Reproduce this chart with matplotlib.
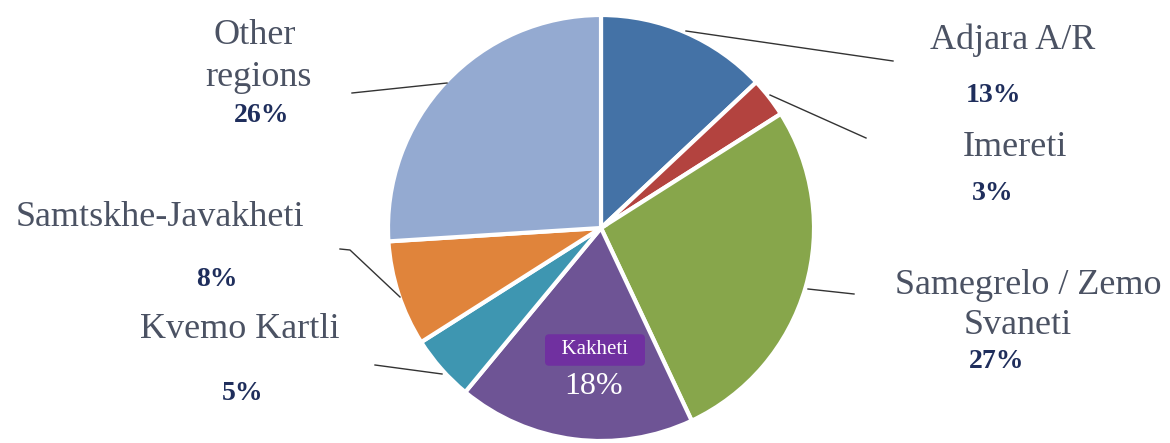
import matplotlib.pyplot as plt

# Slice data, clockwise from 12 o'clock
regions = ["Adjara A/R", "Imereti", "Samegrelo / Zemo\nSvaneti", "Kakheti",
           "Kvemo Kartli", "Samtskhe-Javakheti", "Other\nregions"]
shares = [13, 3, 27, 18, 5, 8, 26]
colors = ["#4472A6", "#B3433F", "#87A64B", "#6E5495", "#3E96B1", "#E0843B", "#94AAD1"]
explode = [0, 0, 0.02, 0.01, 0, 0, 0]

W, H = 1170, 443
NAME_COLOR = "#4B5263"
PCT_COLOR = "#1F2E5C"

plt.rcParams['font.family'] = ['Liberation Serif', 'DejaVu Serif']

fig = plt.figure(figsize=(W / 100, H / 100), dpi=100)
ax = fig.add_axes([0, 0, 1, 1])


def py(y):
    # convert pixel row (top origin) to data y
    return H - y


ax.pie(shares, colors=colors, explode=explode, startangle=90, counterclock=False,
       center=(601, py(228)), radius=213, frame=True,
       wedgeprops=dict(edgecolor='white', linewidth=3))
ax.set_xlim(0, W)
ax.set_ylim(0, H)
ax.set_aspect('equal')
ax.axis('off')

# leader lines (pixel coords)
leaders = [
    [(686, 31), (893, 61)],
    [(770, 95), (866, 138)],
    [(808, 289), (854, 294)],
    [(447, 83), (352, 93)],
    [(400, 297), (350, 250), (340, 249)],
    [(442, 374), (375, 365)],
]
for pts in leaders:
    ax.plot([p[0] for p in pts], [py(p[1]) for p in pts], color='#333333', lw=1)

name_fs = 26
pct_fs = 20


def name(x, y, s):
    ax.text(x, py(y), s, ha='center', va='center', fontsize=name_fs, color=NAME_COLOR)


def pct(x, y, v):
    ax.text(x, py(y), f"{v}%", ha='center', va='center', fontsize=pct_fs,
            color=PCT_COLOR, fontweight='bold')


name(1013, 40, regions[0])
pct(993, 95, shares[0])
name(1015, 147, regions[1])
pct(993, 193, shares[1])
name(1028, 285, "Samegrelo / Zemo")
name(1018, 325, "Svaneti")
pct(997, 362, shares[2])
name(255, 35, "Other")
name(258, 77, "regions")
pct(262, 115, shares[6])
name(160, 217, regions[5])
pct(217, 280, shares[5])
name(240, 330, regions[4])
pct(243, 393, shares[4])

# Kakheti label inside the slice
ax.text(595, py(350), "  " + regions[3] + "  ", ha='center', va='center', fontsize=15,
        color='white',
        bbox=dict(boxstyle='round,pad=0.3,rounding_size=0.2', facecolor='#7030A0',
                  edgecolor='none'))
ax.text(594, py(386), f"{shares[3]}%", ha='center', va='center', fontsize=23,
        color='white')

fig.savefig("out.png", dpi=100)
